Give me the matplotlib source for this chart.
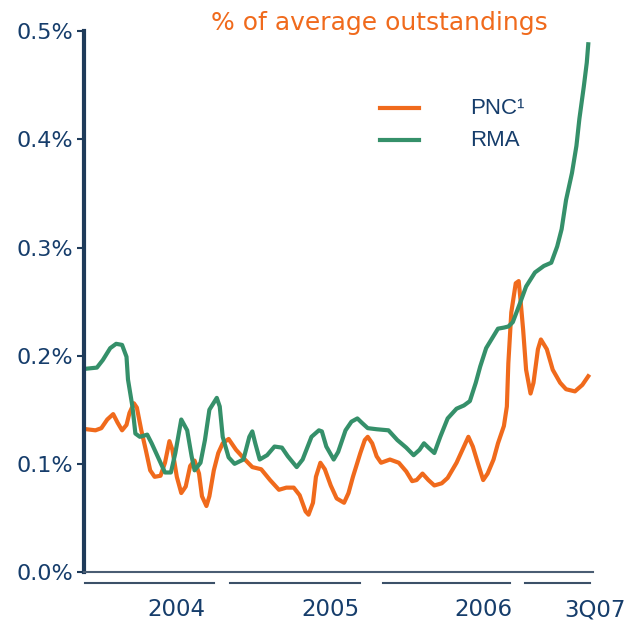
import matplotlib
matplotlib.use("Agg")
import matplotlib.pyplot as plt
from matplotlib.lines import Line2D

# x positions are fractional years, values in %
rma_x = [2004.08, 2004.15, 2004.19, 2004.24, 2004.28, 2004.32, 2004.35, 2004.36, 2004.39, 2004.41,
         2004.44, 2004.49, 2004.52, 2004.57, 2004.61, 2004.65, 2004.68, 2004.72, 2004.76, 2004.79,
         2004.81, 2004.85, 2004.88, 2004.91, 2004.96, 2004.98, 2005.00, 2005.04, 2005.08, 2005.14,
         2005.18, 2005.20, 2005.22, 2005.25, 2005.30, 2005.35, 2005.40, 2005.44, 2005.50, 2005.54,
         2005.60, 2005.65, 2005.67, 2005.70, 2005.75, 2005.78, 2005.83, 2005.87, 2005.91, 2005.94,
         2005.98, 2006.04, 2006.12, 2006.18, 2006.24, 2006.29, 2006.33, 2006.36, 2006.39, 2006.43,
         2006.47, 2006.52, 2006.58, 2006.63, 2006.67, 2006.71, 2006.74, 2006.78, 2006.82, 2006.86,
         2006.90, 2006.93, 2006.96, 2007.01, 2007.05, 2007.11, 2007.17, 2007.22, 2007.26, 2007.29,
         2007.32, 2007.36, 2007.39, 2007.41, 2007.44, 2007.46, 2007.47]
rma_y = [0.188, 0.189, 0.196, 0.207, 0.211, 0.210, 0.199, 0.178, 0.153, 0.128,
         0.125, 0.127, 0.119, 0.104, 0.092, 0.092, 0.110, 0.141, 0.131, 0.107,
         0.094, 0.101, 0.122, 0.150, 0.161, 0.153, 0.125, 0.106, 0.100, 0.104,
         0.125, 0.130, 0.119, 0.104, 0.108, 0.116, 0.115, 0.107, 0.097, 0.104,
         0.125, 0.131, 0.130, 0.116, 0.104, 0.111, 0.131, 0.139, 0.142, 0.138,
         0.133, 0.132, 0.131, 0.122, 0.115, 0.108, 0.113, 0.119, 0.115, 0.110,
         0.125, 0.142, 0.151, 0.154, 0.158, 0.175, 0.190, 0.207, 0.216, 0.225,
         0.226, 0.227, 0.231, 0.249, 0.264, 0.277, 0.283, 0.286, 0.301, 0.317,
         0.344, 0.369, 0.394, 0.419, 0.449, 0.471, 0.488]

pnc_x = [2004.08, 2004.14, 2004.18, 2004.22, 2004.26, 2004.29, 2004.32, 2004.35, 2004.37, 2004.40,
         2004.42, 2004.45, 2004.48, 2004.51, 2004.54, 2004.58, 2004.61, 2004.64, 2004.66, 2004.69,
         2004.72, 2004.75, 2004.78, 2004.81, 2004.84, 2004.86, 2004.89, 2004.91, 2004.94, 2004.97,
         2005.00, 2005.04, 2005.09, 2005.15, 2005.20, 2005.26, 2005.32, 2005.38, 2005.43, 2005.48,
         2005.52, 2005.56, 2005.58, 2005.61, 2005.63, 2005.66, 2005.69, 2005.73, 2005.77, 2005.82,
         2005.85, 2005.88, 2005.93, 2005.96, 2005.98, 2006.01, 2006.04, 2006.07, 2006.13, 2006.19,
         2006.24, 2006.28, 2006.31, 2006.35, 2006.39, 2006.43, 2006.48, 2006.52, 2006.58, 2006.63,
         2006.66, 2006.69, 2006.73, 2006.76, 2006.79, 2006.83, 2006.86, 2006.90, 2006.92, 2006.93,
         2006.95, 2006.98, 2007.00, 2007.01, 2007.03, 2007.05, 2007.08, 2007.10, 2007.13, 2007.15,
         2007.19, 2007.23, 2007.28, 2007.32, 2007.38, 2007.43, 2007.47]
pnc_y = [0.132, 0.131, 0.133, 0.141, 0.146, 0.138, 0.131, 0.136, 0.147, 0.156,
         0.152, 0.131, 0.113, 0.094, 0.088, 0.089, 0.101, 0.121, 0.113, 0.088,
         0.073, 0.079, 0.098, 0.103, 0.091, 0.070, 0.061, 0.070, 0.094, 0.110,
         0.119, 0.123, 0.113, 0.104, 0.097, 0.095, 0.085, 0.076, 0.078, 0.078,
         0.071, 0.056, 0.053, 0.064, 0.088, 0.101, 0.095, 0.080, 0.068, 0.064,
         0.073, 0.088, 0.110, 0.122, 0.125, 0.119, 0.107, 0.101, 0.104, 0.101,
         0.093, 0.084, 0.085, 0.091, 0.085, 0.080, 0.082, 0.087, 0.101, 0.116,
         0.125, 0.116, 0.098, 0.085, 0.091, 0.104, 0.119, 0.135, 0.153, 0.193,
         0.240, 0.267, 0.269, 0.255, 0.224, 0.187, 0.165, 0.175, 0.206, 0.215,
         0.206, 0.187, 0.175, 0.169, 0.167, 0.173, 0.181]

y_ticks = [0.0, 0.1, 0.2, 0.3, 0.4, 0.5]
period_labels = ["2004", "2005", "2006", "3Q07"]
period_spans = [(2004.07, 2004.94), (2005.05, 2005.93), (2006.08, 2006.94), (2007.04, 2007.48)]
label_pos = [2004.69, 2005.73, 2006.76, 2007.515]

ORANGE = "#f06a1c"
GREEN = "#35906a"
NAVY = "#163d6b"

fig = plt.figure(figsize=(6.39, 6.26), dpi=100)
ax = fig.add_axes([0.1315, 0.0863, 0.7965, 0.8637])

ax.plot(pnc_x, pnc_y, color=ORANGE, lw=3, solid_joinstyle="round")
ax.plot(rma_x, rma_y, color=GREEN, lw=3, solid_joinstyle="round")

ax.set_xlim(2004.063, 2007.502)
ax.set_ylim(0, 0.5)
ax.set_yticks(y_ticks)
ax.set_yticklabels([f"{v:.1f}%" for v in y_ticks])
ax.tick_params(axis="y", colors="#1f3b5a", labelcolor=NAVY, labelsize=16,
               length=5, width=1.5, pad=3)
ax.set_xticks([])

for s in ["top", "right"]:
    ax.spines[s].set_visible(False)
ax.spines["left"].set_color("#1f3b5a")
ax.spines["left"].set_linewidth(3)
ax.spines["bottom"].set_color("#4a5d73")
ax.spines["bottom"].set_linewidth(1.5)

# year groupings under the axis
trans = ax.get_xaxis_transform()
for (a, b), lab, xp in zip(period_spans, period_labels, label_pos):
    ax.plot([a, b], [-0.0203, -0.0203], color="#3b5068", lw=1.5,
            transform=trans, clip_on=False)
    ax.text(xp, -0.070, lab, transform=trans, ha="center", va="center",
            fontsize=16.5, color=NAVY)

fig.text(0.593, 0.963, "% of average outstandings", color=ORANGE,
         fontsize=18, ha="center", va="center")

# legend
fig.add_artist(Line2D([380 / 639, 419 / 639], [1 - 108 / 626] * 2, color=ORANGE, lw=3))
fig.add_artist(Line2D([380 / 639, 419 / 639], [1 - 140 / 626] * 2, color=GREEN, lw=3))
fig.text(470 / 639, 1 - 108 / 626, "PNC\u00b9", color=NAVY, fontsize=16,
         family="Liberation Sans", va="center")
fig.text(470 / 639, 1 - 140 / 626, "RMA", color=NAVY, fontsize=16,
         family="Liberation Sans", va="center")

fig.savefig("out.png", dpi=100, facecolor="white")
